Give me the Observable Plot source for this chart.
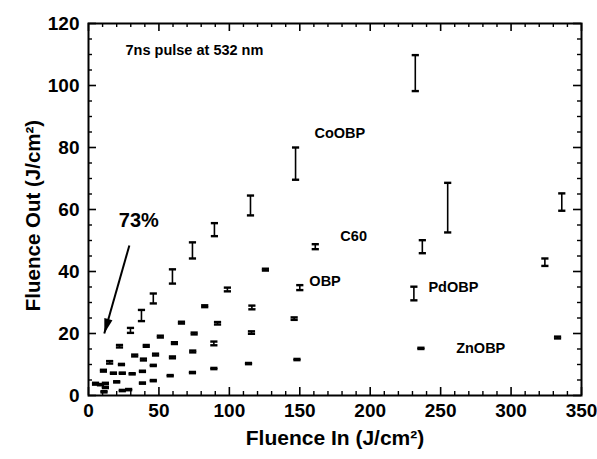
<!DOCTYPE html>
<html>
<head>
<meta charset="utf-8">
<script src="https://cdn.jsdelivr.net/npm/d3@7"></script>
<script src="https://cdn.jsdelivr.net/npm/@observablehq/plot@0.6"></script>
<style>
  html, body { margin: 0; padding: 0; background: white; }
</style>
</head>
<body>
<div id="chart"></div>
<script>
// ---- data ----
const seriesNames = ["CoOBP", "C60", "OBP", "PdOBP", "ZnOBP"];

const coobpX   = [5, 10.6, 15, 22, 29.8, 37.6, 46, 59.6, 73.8, 89.4, 115, 147, 232];
const coobpY   = [3.8, 8, 10.7, 15.9, 21, 25.8, 31.3, 38.4, 46.8, 53.5, 61.3, 74.8, 104];
const coobpErr = [0.3, 0.3, 0.4, 0.4, 0.8, 1.8, 1.6, 2.3, 2.6, 2.1, 3.2, 5.2, 5.8];

const c60X   = [8.5, 17.7, 23.4, 32.8, 41, 51, 66, 82.5, 98.6, 125.6, 161, 237];
const c60Y   = [3.5, 7.2, 10, 12.9, 16, 19, 23.5, 28.8, 34.2, 40.6, 48, 48];
const c60Err = [0.2, 0.2, 0.2, 0.3, 0.3, 0.3, 0.3, 0.3, 0.6, 0.3, 0.8, 2.1];

const obpX   = [12, 24, 39, 47.6, 61, 75, 91.6, 116, 150, 255, 336];
const obpY   = [3.9, 7.2, 11.6, 13.2, 16.9, 20, 23.3, 28.4, 34.8, 60.6, 62.4];
const obpErr = [0.2, 0.2, 0.3, 0.3, 0.3, 0.3, 0.4, 0.6, 0.8, 8, 2.8];

const pdobpX   = [12, 20, 31, 38.3, 46, 59.6, 74, 89, 115.7, 146, 231, 324];
const pdobpY   = [2.6, 4.4, 7, 7.8, 9.7, 12.3, 14.2, 16.8, 20.3, 24.8, 32.9, 43];
const pdobpErr = [0.2, 0.2, 0.2, 0.2, 0.2, 0.3, 0.3, 0.6, 0.4, 0.4, 2.2, 1.2];

const znobpX   = [11, 24, 28.5, 38.3, 46, 58, 73.8, 89, 113.6, 148, 236, 333];
const znobpY   = [1.2, 1.6, 1.9, 4, 4.8, 6.4, 7.4, 8.7, 10.3, 11.6, 15.2, 18.7];
const znobpErr = [0.2, 0.2, 0.2, 0.2, 0.2, 0.2, 0.2, 0.2, 0.2, 0.2, 0.2, 0.3];

const xTicks = [0, 50, 100, 150, 200, 250, 300, 350];
const yTicks = [0, 20, 40, 60, 80, 100, 120];

const xTitle = "Fluence In (J/cm\u00B2)";
const yTitle = "Fluence Out (J/cm\u00B2)";

const labelText = ["7ns pulse at 532 nm", "CoOBP", "C60", "OBP", "PdOBP", "ZnOBP"];
const labelX    = [26.3, 160.4, 178.8, 156.8, 241.3, 261];
const labelY    = [111.3, 84.5, 51.3, 36.8, 34.8, 15.2];

const pctText = "73%";
const pctX = 21.5;
const pctY = 56.5;

const arrowX1 = 29, arrowY1 = 48.4, arrowX2 = 11.2, arrowY2 = 20;

// ---- build tables ----
const seriesData = [
  [coobpX, coobpY, coobpErr],
  [c60X, c60Y, c60Err],
  [obpX, obpY, obpErr],
  [pdobpX, pdobpY, pdobpErr],
  [znobpX, znobpY, znobpErr]
];
const rows = [];
seriesData.forEach(([xs, ys, es], i) => {
  xs.forEach((x, j) => rows.push({series: seriesNames[i], x, y: ys[j], lo: ys[j] - es[j], hi: ys[j] + es[j]}));
});
const caps = rows.flatMap(d => [{x: d.x, y: d.lo}, {x: d.x, y: d.hi}]);
const labels = labelText.map((t, i) => ({text: t, x: labelX[i], y: labelY[i]}));

const xMinor = d3.range(0, 351, 10).filter(v => v % 50 !== 0);
const yMinor = d3.range(0, 121, 5).filter(v => v % 20 !== 0);

const hline = {
  draw(context, size) {
    const w = Math.sqrt(size / Math.PI);
    context.moveTo(-w, 0);
    context.lineTo(w, 0);
  }
};
// narrow arrow head, tip at the origin, pointing up
const head = {
  draw(context) {
    context.moveTo(0, 0);
    context.lineTo(-4.2, 15);
    context.lineTo(4.2, 15);
    context.closePath();
  }
};

const W = 597, H = 459, mL = 88, mR = 16, mT = 23, mB = 64;
const fw = W - mL - mR, fh = H - mT - mB;
const majorLen = 8, minorLen = 4;

// screen angle of the arrow (clockwise from up), from scale ratios
const dxp = (arrowX2 - arrowX1) * fw / 350;
const dyp = -(arrowY2 - arrowY1) * fh / 120;
const headAngle = Math.atan2(dxp, -dyp) * 180 / Math.PI;

const chart = Plot.plot({
  width: W,
  height: H,
  marginLeft: mL,
  marginRight: mR,
  marginTop: mT,
  marginBottom: mB,
  x: {domain: [0, 350]},
  y: {domain: [0, 120]},
  style: {fontFamily: "'Liberation Sans', Arial, sans-serif", fontWeight: "bold", color: "black", background: "white", overflow: "visible"},
  marks: [
    // inward ticks on all four sides
    Plot.ruleX(xTicks, {insetTop: fh - majorLen, stroke: "black", strokeWidth: 1.6}),
    Plot.ruleX(xMinor, {insetTop: fh - minorLen, stroke: "black", strokeWidth: 1.4}),
    Plot.ruleX(xTicks, {insetBottom: fh - majorLen, stroke: "black", strokeWidth: 1.6}),
    Plot.ruleX(xMinor, {insetBottom: fh - minorLen, stroke: "black", strokeWidth: 1.4}),
    Plot.ruleY(yTicks, {insetRight: fw - majorLen, stroke: "black", strokeWidth: 1.6}),
    Plot.ruleY(yMinor, {insetRight: fw - minorLen, stroke: "black", strokeWidth: 1.4}),
    Plot.ruleY(yTicks, {insetLeft: fw - majorLen, stroke: "black", strokeWidth: 1.6}),
    Plot.ruleY(yMinor, {insetLeft: fw - minorLen, stroke: "black", strokeWidth: 1.4}),
    Plot.frame({stroke: "black", strokeWidth: 2}),
    Plot.axisX({ticks: xTicks, tickSize: 0, tickPadding: 8, fontSize: 19, label: null}),
    Plot.axisY({ticks: yTicks, tickSize: 0, tickPadding: 9, fontSize: 19, label: null}),
    Plot.text([xTitle], {frameAnchor: "bottom", lineAnchor: "middle", textAnchor: "middle", dy: 43, fontSize: 21, fill: "black"}),
    Plot.text([yTitle], {frameAnchor: "left", lineAnchor: "middle", textAnchor: "middle", dx: -55, dy: 6, rotate: -90, fontSize: 20.5, fill: "black"}),
    // error bars
    Plot.ruleX(rows, {x: "x", y1: "lo", y2: "hi", stroke: "black", strokeWidth: 1.6}),
    Plot.dot(caps, {x: "x", y: "y", symbol: hline, r: 3.6, fill: "none", stroke: "black", strokeWidth: 2.4}),
    // annotations
    Plot.text(labels, {x: "x", y: "y", text: "text", textAnchor: "start", fontSize: 14.5, fill: "black"}),
    Plot.text([pctText], {x: () => pctX, y: () => pctY, textAnchor: "start", fontSize: 20, fill: "black"}),
    Plot.link([0], {x1: () => arrowX1, y1: () => arrowY1, x2: () => arrowX2, y2: () => arrowY2, stroke: "black", strokeWidth: 2}),
    Plot.dot([0], {x: () => arrowX2, y: () => arrowY2, symbol: head, rotate: headAngle, fill: "black", stroke: "none"})
  ]
});
document.getElementById("chart").appendChild(chart);
</script>
</body>
</html>
